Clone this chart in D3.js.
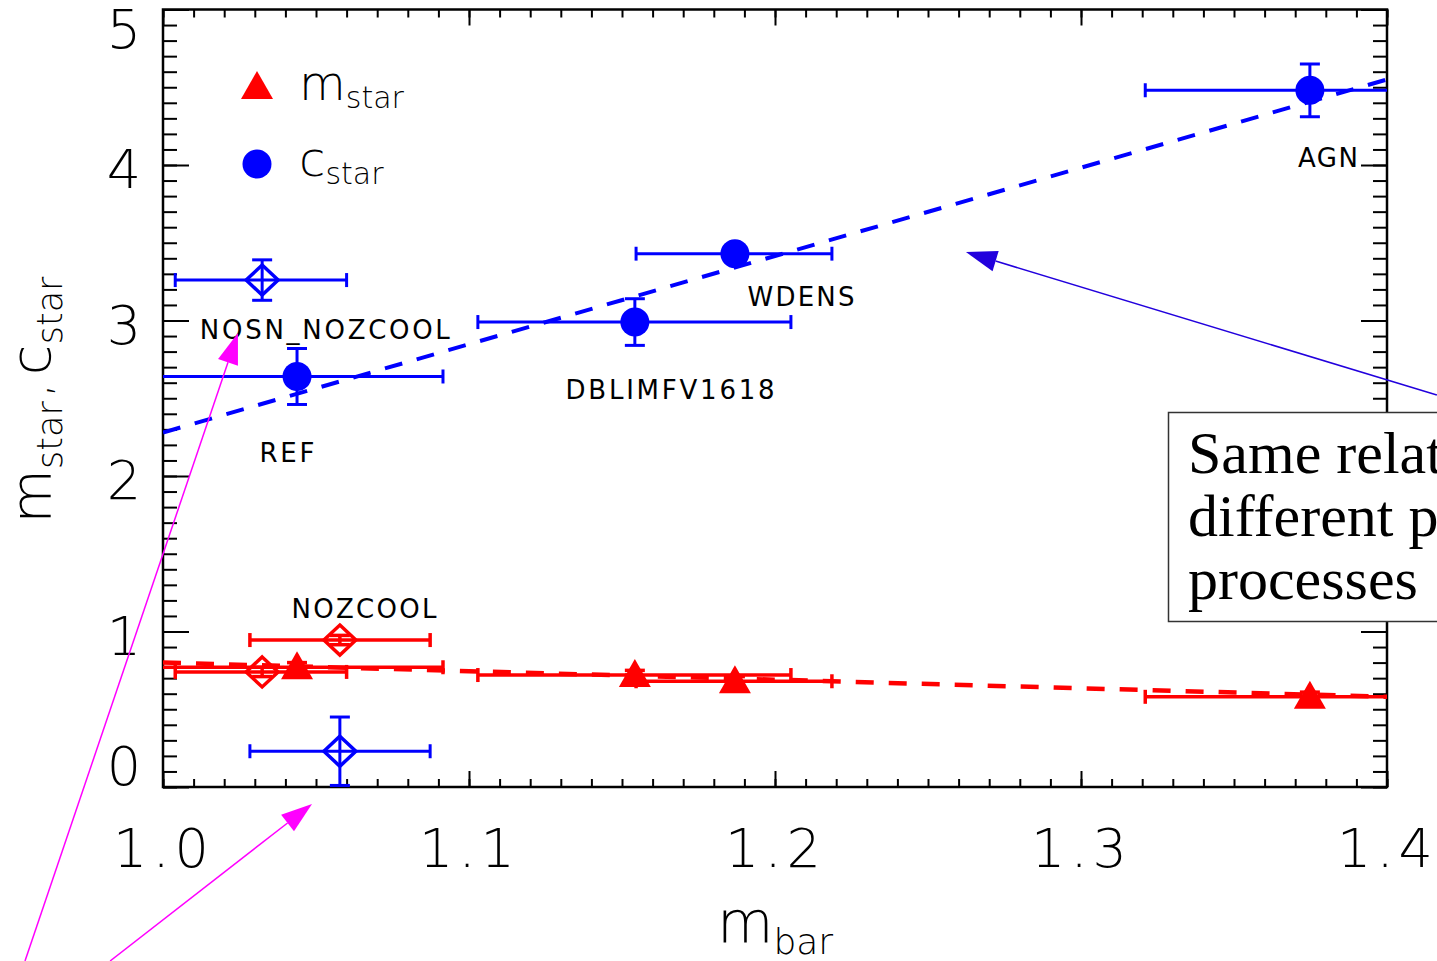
<!DOCTYPE html>
<html>
<head>
<meta charset="utf-8">
<script src="https://cdn.jsdelivr.net/npm/d3@7"></script>
<style>
  html, body { margin: 0; padding: 0; background: #fff; }
  svg { display: block; }
</style>
</head>
<body>
<svg id="chart" width="1437" height="961"></svg>
<script>
// Simulation runs and their baryon / stellar profile parameters
const runs     = ["REF", "DBLIMFV1618", "WDENS", "AGN", "NOSN_NOZCOOL", "NOZCOOL"];
const openRun  = [false, false, false, false, true, true];
const mBar     = [1.0438, 1.1542, 1.1869, 1.3748, 1.0324, 1.0578];
const mBarLo   = [0.990, 1.1029, 1.1546, 1.3210, 1.0040, 1.0284];
const mBarHi   = [1.0915, 1.2052, 1.2186, 1.4300, 1.0600, 1.0873];
const cStar    = [2.64, 2.99, 3.43, 4.48, 3.26, 0.23];
const cStarErr = [0.18, 0.15, 0.05, 0.17, 0.13, 0.22];
const mStar    = [0.77, 0.72, 0.68, 0.58, 0.74, 0.945];
const mStarErr = [0.03, 0.03, 0.03, 0.03, 0.03, 0.03];

// Linear fits through the filled points
const fitX     = [1.0, 1.4];
const cFit     = [2.28, 4.55];
const mFit     = [0.80, 0.58];

// Axis ticks
const xMajor   = [1.0, 1.1, 1.2, 1.3, 1.4];
const xMinor   = d3.range(0, 41).map(i => 1.0 + i * 0.01);
const yMajor   = [0, 1, 2, 3, 4, 5];
const yMinor   = d3.range(0, 51).map(i => i * 0.1);

const svg = d3.select("#chart");
const W = 1437, H = 961;
const plot = { left: 163, right: 1387, top: 9.5, bottom: 787 };

const x = d3.scaleLinear().domain([1.0, 1.4]).range([plot.left, plot.right]);
const y = d3.scaleLinear().domain([0, 5]).range([plot.bottom, plot.top]);

const RED = "#ff0000", BLUE = "#0000ff", MAGENTA = "#ff00ff", ARROWBLUE = "#2200dd";
const hershey = "'DejaVu Sans', 'Liberation Sans', sans-serif";

svg.append("rect").attr("width", W).attr("height", H).attr("fill", "#fff");

svg.append("defs").append("clipPath").attr("id", "plotClip")
  .append("rect")
  .attr("x", plot.left).attr("y", plot.top)
  .attr("width", plot.right - plot.left).attr("height", plot.bottom - plot.top);

// ---------- axes ----------
function styleAxis(g) {
  g.select(".domain").remove();
  g.selectAll(".tick line").attr("stroke", "#000").attr("stroke-width", 2);
  g.selectAll("text").attr("fill", "#000");
}
const noLabel = () => "";

// bottom
svg.append("g").attr("transform", `translate(0,${plot.bottom})`)
  .call(d3.axisBottom(x).tickValues(xMinor).tickSize(-8).tickFormat(noLabel)).call(styleAxis);
svg.append("g").attr("class", "xlab").attr("transform", `translate(0,${plot.bottom})`)
  .call(d3.axisBottom(x).tickValues(xMajor).tickSize(-16).tickPadding(42).tickFormat(d3.format(".1f")))
  .call(styleAxis)
  .selectAll("text")
  .attr("font-family", hershey).attr("font-weight", 200)
  .attr("font-size", 54).attr("letter-spacing", 5);
// top
svg.append("g").attr("transform", `translate(0,${plot.top})`)
  .call(d3.axisTop(x).tickValues(xMinor).tickSize(-8).tickFormat(noLabel)).call(styleAxis);
svg.append("g").attr("transform", `translate(0,${plot.top})`)
  .call(d3.axisTop(x).tickValues(xMajor).tickSize(-16).tickFormat(noLabel)).call(styleAxis);
// left
svg.append("g").attr("transform", `translate(${plot.left},0)`)
  .call(d3.axisLeft(y).tickValues(yMinor).tickSize(-14).tickFormat(noLabel)).call(styleAxis);
const yLab = svg.append("g").attr("transform", `translate(${plot.left},0)`)
  .call(d3.axisLeft(y).tickValues(yMajor).tickSize(-26).tickPadding(22).tickFormat(d3.format("d")))
  .call(styleAxis);
yLab.selectAll("text")
  .attr("font-family", hershey).attr("font-weight", 200)
  .attr("font-size", 54)
  .attr("dy", d => d === 0 ? "-0.05em" : d === 5 ? "0.7em" : "0.42em");
// right
svg.append("g").attr("transform", `translate(${plot.right},0)`)
  .call(d3.axisRight(y).tickValues(yMinor).tickSize(-14).tickFormat(noLabel)).call(styleAxis);
svg.append("g").attr("transform", `translate(${plot.right},0)`)
  .call(d3.axisRight(y).tickValues(yMajor).tickSize(-26).tickFormat(noLabel)).call(styleAxis);

// frame
svg.append("rect")
  .attr("x", plot.left).attr("y", plot.top)
  .attr("width", plot.right - plot.left).attr("height", plot.bottom - plot.top)
  .attr("fill", "none").attr("stroke", "#000").attr("stroke-width", 2.5);

// axis titles
const xTitle = svg.append("text")
  .attr("x", x(1.2)).attr("y", 943)
  .attr("text-anchor", "middle")
  .attr("font-family", hershey).attr("font-weight", 200).attr("fill", "#000");
xTitle.append("tspan").attr("font-size", 58).text("m");
xTitle.append("tspan").attr("font-size", 36).attr("dy", 11).text("bar");

const yTitle = svg.append("text")
  .attr("transform", `translate(50,400) rotate(-90)`)
  .attr("text-anchor", "middle")
  .attr("font-family", hershey).attr("font-weight", 200).attr("fill", "#000");
yTitle.append("tspan").attr("font-size", 56).text("m");
yTitle.append("tspan").attr("font-size", 35).attr("dy", 12).text("star");
yTitle.append("tspan").attr("font-size", 44).attr("dy", -12).attr("dx", 4).text(",");
yTitle.append("tspan").attr("font-size", 56).attr("dx", 8).text("c");
yTitle.append("tspan").attr("font-size", 35).attr("dy", 12).text("star");

// ---------- data ----------
const data = runs.map((name, i) => ({
  name, open: openRun[i], mb: mBar[i], lo: mBarLo[i], hi: mBarHi[i],
  c: cStar[i], ce: cStarErr[i], m: mStar[i], me: mStarErr[i]
}));

const layer = svg.append("g").attr("clip-path", "url(#plotClip)");

// fit lines
const fitLine = d3.line().x(d => x(d[0])).y(d => y(d[1]));
layer.append("path")
  .attr("d", fitLine(fitX.map((v, i) => [v, mFit[i]])))
  .attr("fill", "none").attr("stroke", RED).attr("stroke-width", 4.5)
  .attr("stroke-dasharray", "18,15");
layer.append("path")
  .attr("d", fitLine(fitX.map((v, i) => [v, cFit[i]])))
  .attr("fill", "none").attr("stroke", BLUE).attr("stroke-width", 4)
  .attr("stroke-dasharray", "18,15");

function errorBars(g, rows, key, errKey, color, sw) {
  const capX = 7, capY = 10;
  rows.forEach(d => {
    const yc = y(d[key]);
    const seg = (x1, y1, x2, y2) => g.append("line")
      .attr("x1", x1).attr("y1", y1).attr("x2", x2).attr("y2", y2)
      .attr("stroke", color).attr("stroke-width", sw);
    // horizontal (m_bar range)
    seg(x(d.lo), yc, x(d.hi), yc);
    seg(x(d.lo), yc - capX, x(d.lo), yc + capX);
    seg(x(d.hi), yc - capX, x(d.hi), yc + capX);
    // vertical
    const yt = y(d[key] + d[errKey]), yb = y(d[key] - d[errKey]);
    seg(x(d.mb), yt, x(d.mb), yb);
    seg(x(d.mb) - capY, yt, x(d.mb) + capY, yt);
    seg(x(d.mb) - capY, yb, x(d.mb) + capY, yb);
  });
}

const triPath = "M0,-16 L16,12 L-16,12 Z";
const diaPath = "M0,-15 L16,0 L0,15 L-16,0 Z";

function markers(g, rows, key, color, filledShape) {
  rows.forEach(d => {
    const cx = x(d.mb), cy = y(d[key]);
    if (d.open) {
      g.append("path").attr("d", diaPath)
        .attr("transform", `translate(${cx},${cy})`)
        .attr("fill", "none").attr("stroke", color).attr("stroke-width", 3.5);
    } else if (filledShape === "circle") {
      g.append("circle").attr("cx", cx).attr("cy", cy).attr("r", 14.5).attr("fill", color);
    } else {
      g.append("path").attr("d", triPath)
        .attr("transform", `translate(${cx},${cy})`).attr("fill", color);
    }
  });
}

const redG = layer.append("g");
errorBars(redG, data, "m", "me", RED, 3.5);
markers(redG, data, "m", RED, "triangle");

const blueG = layer.append("g");
errorBars(blueG, data, "c", "ce", BLUE, 3);
markers(blueG, data, "c", BLUE, "circle");

// run labels
const labelAt = {
  "NOSN_NOZCOOL": [1.0529, 2.94, 250],
  "REF":          [1.0405, 2.148, 55],
  "DBLIMFV1618":  [1.1657, 2.553, 209],
  "WDENS":        [1.2085, 3.151, 107],
  "AGN":          [1.3807, 4.045, 60],
  "NOZCOOL":      [1.0657, 1.145, 145]
};
svg.append("g").selectAll("text").data(runs).join("text")
  .attr("x", d => x(labelAt[d][0]) - labelAt[d][2] / 2)
  .attr("y", d => y(labelAt[d][1]))
  .attr("dy", "0.36em")
  .attr("textLength", d => labelAt[d][2])
  .attr("lengthAdjust", "spacing")
  .attr("font-family", hershey).attr("font-size", 26)
  .attr("fill", "#000")
  .text(d => d);

// legend
const legend = svg.append("g").attr("font-family", hershey).attr("font-weight", 200).attr("fill", "#000");
legend.append("path").attr("d", triPath).attr("transform", "translate(257,87)").attr("fill", RED);
legend.append("circle").attr("cx", 257).attr("cy", 164).attr("r", 14.5).attr("fill", BLUE);
const l1 = legend.append("text").attr("x", 299).attr("y", 100);
l1.append("tspan").attr("font-size", 48).text("m");
l1.append("tspan").attr("font-size", 30).attr("dy", 8).text("star");
const l2 = legend.append("text").attr("x", 299).attr("y", 176);
l2.append("tspan").attr("font-size", 48).text("c");
l2.append("tspan").attr("font-size", 30).attr("dy", 8).text("star");

// ---------- annotations ----------
function arrow(from, to, color, width) {
  const x1 = x(from[0]), y1 = y(from[1]), x2 = x(to[0]), y2 = y(to[1]);
  const L = Math.hypot(x2 - x1, y2 - y1), ux = (x2 - x1) / L, uy = (y2 - y1) / L;
  const len = 31, hw = 10.5;
  const bx = x2 - ux * len, by = y2 - uy * len;
  svg.append("line").attr("x1", x1).attr("y1", y1).attr("x2", bx).attr("y2", by)
    .attr("stroke", color).attr("stroke-width", width);
  svg.append("path")
    .attr("d", `M${x2},${y2} L${bx - uy * hw},${by + ux * hw} L${bx + uy * hw},${by - ux * hw} Z`)
    .attr("fill", color);
}
arrow([0.9549, -1.119], [1.0245, 2.92], MAGENTA, 1.5);
arrow([0.9827, -1.119], [1.0487, -0.109], MAGENTA, 1.5);
arrow([1.4163, 2.521], [1.2624, 3.44], ARROWBLUE, 1.5);

// text box
svg.append("rect")
  .attr("x", 1168.5).attr("y", 412.5).attr("width", 300).attr("height", 209)
  .attr("fill", "#fff").attr("stroke", "#333").attr("stroke-width", 1.5);
const note = svg.append("text")
  .attr("font-family", "'Liberation Serif', 'DejaVu Serif', serif")
  .attr("font-size", 60).attr("fill", "#000");
["Same relation for", "different physical", "processes"].forEach((t, i) => {
  note.append("tspan").attr("x", 1188).attr("y", 473 + i * 63).text(t);
});
</script>
</body>
</html>
